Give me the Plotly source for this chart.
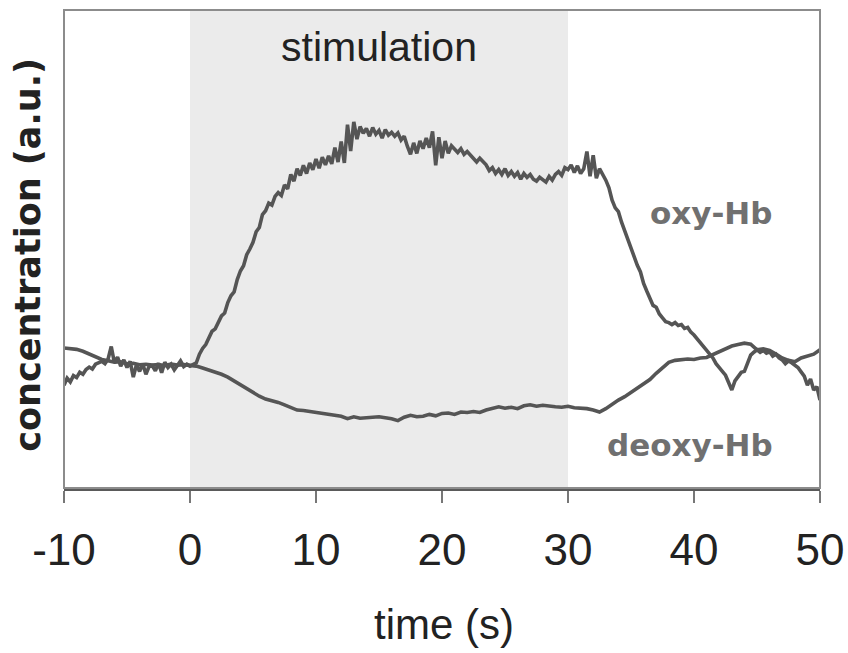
import numpy as np
import plotly.graph_objects as go

# Time axis (s) and haemoglobin concentration changes (a.u.)
t_oxy = np.arange(-10, 50.001, 0.25)
oxy_hb = [
    -3.5, -2.0, -2.8, -1.5, -1.9, -0.8, -1.2, -0.2, 0.3, -0.1, 0.9, 1.2,
    1.5, 1.0, 2.0, 4.6, 1.2, 2.4, 0.5, 1.8, 0.2, 1.5, -1.8, 0.8,
    -0.6, 1.0, -1.2, 0.4, 0.6, -0.5, 1.1, -0.9, 1.3, 0.2, 0.9, -0.3,
    0.6, 1.6, 0.4, 0.9,
    0.5, 0.9, 1.2, 3.0,
    4.2, 5.0, 6.5, 7.8,
    8.3, 9.6, 11.0, 11.6,
    13.8, 15.2, 16.0, 18.6,
    20.4, 21.5, 23.8, 25.0,
    26.4, 28.6, 29.5, 32.2,
    33.0, 34.6, 34.2, 36.0,
    36.8, 36.2, 38.4, 37.6,
    40.6, 39.2, 41.8, 40.4,
    42.5, 40.8, 43.0, 41.6,
    43.8, 41.9, 44.2, 42.6,
    44.5, 42.8, 46.2, 43.2,
    47.5, 43.0, 51.0, 45.5,
    51.6, 48.0, 50.6, 49.2,
    50.2, 48.6, 50.4, 49.0,
    49.8, 48.2, 50.0, 48.8,
    49.4, 48.6, 49.3, 47.8,
    48.6, 46.5, 44.8, 47.2,
    45.0, 47.6, 46.0, 48.2,
    46.2, 49.6, 42.5, 48.4,
    44.0, 47.6, 45.0, 46.6,
    45.8, 45.2, 46.0, 44.8,
    45.4, 44.6, 44.0, 43.2,
    44.0, 43.2, 42.6, 41.4,
    42.0, 40.8, 41.6, 40.6,
    41.8, 40.4, 41.2, 40.2,
    41.0, 39.6, 40.8, 40.0,
    40.6, 39.6, 39.2, 40.0,
    39.4, 39.0, 40.2, 39.4,
    40.6, 41.2, 40.4, 42.0,
    41.6, 42.6, 41.0, 42.4,
    40.8, 41.8, 45.4, 40.2,
    44.6, 39.8, 41.8, 40.6,
    39.4, 37.8, 35.2, 33.6,
    32.8, 30.6, 28.8, 27.2,
    25.0, 23.4, 21.6, 20.2,
    17.8, 16.2, 14.6, 13.2,
    12.8, 11.4, 10.6, 9.8,
    9.6, 9.2, 9.6, 9.0,
    9.2, 8.4, 8.6, 7.6,
    7.0, 6.2, 5.6, 4.8,
    4.0, 3.0, 2.2, 1.0,
    0.3, -0.6, -1.4, -2.8,
    -4.5, -2.6, -1.8, -0.8,
    -0.6, 1.0, 2.8, 3.4,
    3.9, 3.4, 3.8, 3.2,
    3.5, 2.6, 3.0, 2.2,
    1.8, 1.0, 1.6, 1.2,
    0.8, 0.2, -0.7, -1.6,
    -3.5, -2.2, -4.5, -3.8,
    -6.6,
]

t_deoxy = np.arange(-10, 50.001, 0.5)
deoxy_hb = [
    4.3, 4.2, 4.0, 3.6, 3.0, 2.4, 1.9, 1.6, 1.3, 1.4,
    1.0, 1.1, 0.8, 0.9, 0.7, 0.8, 0.6, 0.9, 0.7, 0.8,
    0.7, 0.5, 0.1, -0.3, -0.8, -1.2, -1.8, -2.6, -3.5, -4.4,
    -5.1, -5.8, -6.4, -6.7, -7.1, -7.6, -8.2, -8.7, -8.8, -9.0,
    -9.2, -9.4, -9.6, -9.9, -10.0, -10.5, -10.1, -10.4, -10.3, -10.3,
    -10.1, -10.3, -10.5, -10.9, -10.2, -9.8, -10.1, -10.0, -9.6, -9.9,
    -9.4, -9.3, -9.6, -9.1, -9.2, -9.0, -9.2, -8.7, -8.3, -8.0,
    -8.3, -8.1, -8.4, -7.8, -7.6, -7.9, -7.7, -7.9, -8.0, -8.1,
    -7.9, -8.2, -8.3, -8.4, -8.7, -9.1, -8.4, -7.4, -6.6, -5.9,
    -5.0, -4.1, -3.2, -2.3, -1.0, 0.2, 1.3, 1.7, 1.9, 2.0,
    1.9, 2.2, 2.3, 2.9, 3.6, 4.2, 4.7, 5.0, 5.3, 5.1,
    3.9, 4.1, 3.8, 3.0, 2.2, 1.7, 1.4, 2.2, 2.6, 3.0,
    3.9,
]

x_ticks = [-10, 0, 10, 20, 30, 40, 50]
stim_start, stim_end = 0, 30

line_color = "#555555"
label_grey = "#707070"

fig = go.Figure()

fig.add_trace(go.Scatter(x=t_deoxy, y=deoxy_hb, mode="lines",
                         line=dict(color=line_color, width=3.6),
                         hoverinfo="skip", showlegend=False))
fig.add_trace(go.Scatter(x=t_oxy, y=oxy_hb, mode="lines",
                         line=dict(color=line_color, width=3.6),
                         hoverinfo="skip", showlegend=False))

# stimulation period
fig.add_shape(type="rect", xref="x", yref="paper",
              x0=stim_start, x1=stim_end, y0=0, y1=1,
              fillcolor="#ebebeb", line=dict(width=0), layer="below")

# frame around the plotting area
fig.add_shape(type="rect", xref="paper", yref="paper",
              x0=0, x1=1, y0=0, y1=1,
              line=dict(color="#8c8c8c", width=2), layer="above")

fig.add_annotation(x=(stim_start + stim_end) / 2, y=67.3, xref="x", yref="y",
                   text="stimulation", showarrow=False,
                   xanchor="center", yanchor="middle",
                   font=dict(family="Liberation Sans, Arial", size=41, color="#222222"))
fig.add_annotation(x=46.4, y=32.5, xref="x", yref="y",
                   xanchor="right", yanchor="middle",
                   text="<b>oxy-Hb</b>", showarrow=False,
                   font=dict(family="DejaVu Sans", size=31, color=label_grey))
fig.add_annotation(x=46.4, y=-16.0, xref="x", yref="y",
                   xanchor="right", yanchor="middle",
                   text="<b>deoxy-Hb</b>", showarrow=False,
                   font=dict(family="DejaVu Sans", size=31, color=label_grey))

# axis titles
fig.add_annotation(x=0.502, y=-0.2866, xref="paper", yref="paper",
                   xanchor="center", yanchor="middle",
                   text="time (s)", showarrow=False,
                   font=dict(family="Liberation Sans, Arial", size=42, color="#222222"))
fig.add_annotation(x=-0.0476, y=0.488, xref="paper", yref="paper",
                   xanchor="center", yanchor="middle",
                   text="<b>concentration (a.u.)</b>", showarrow=False, textangle=-90,
                   font=dict(family="DejaVu Sans", size=35, color="#222222"))

fig.update_xaxes(range=[-10, 50], tickvals=x_ticks, ticktext=[str(v) for v in x_ticks],
                 showgrid=False, zeroline=False, automargin=False,
                 ticklabeloverflow="allow",
                 showline=True, linecolor="#5a5a5a", linewidth=2.5,
                 ticks="outside", ticklen=12, tickwidth=2, tickcolor="#777777",
                 ticklabelstandoff=9,
                 tickfont=dict(family="Liberation Sans, Arial", size=44, color="#222222"))
fig.update_yaxes(range=[-25, 75], showgrid=False, zeroline=False, automargin=False,
                 showticklabels=False, showline=False, ticks="")

fig.update_layout(width=848, height=653,
                  margin=dict(l=64, r=28, t=10, b=165),
                  paper_bgcolor="white", plot_bgcolor="white")

fig.write_html("out.html")
